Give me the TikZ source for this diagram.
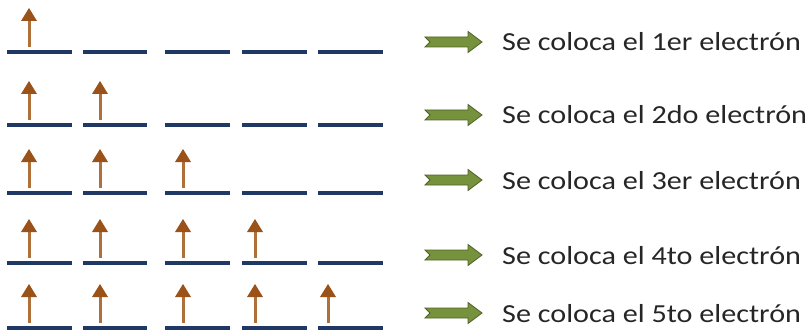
\documentclass[tikz,border=0pt]{standalone}
\usepackage{fontspec}
\setmainfont{Carlito}
\definecolor{levelblue}{HTML}{1F3864}
\definecolor{spinbrown}{HTML}{9A5219}
\definecolor{shaftbrown}{HTML}{B0703A}
\definecolor{pointgreen}{HTML}{76923C}
\definecolor{pointedge}{HTML}{4F6228}
\begin{document}
\begin{tikzpicture}[x=1pt,y=-1pt,
  level/.style={levelblue, line width=3.2pt},
  shaft/.style={shaftbrown, line width=3pt},
  spinhead/.style={fill=spinbrown, draw=none},
  pointer/.style={fill=pointgreen, draw=pointedge, line width=0.8pt, line join=miter},
  caption/.style={anchor=base west, font=\fontsize{26}{30}\selectfont, text=black!85,
    inner sep=0pt, xscale=1.16}]
\useasboundingbox (0,0) rectangle (808,334);
% each row: level height, pointer height, ordinal
\foreach \r/\ly/\gy/\ord in {1/52/42/1er,2/125/115/2do,3/193/180/3er,4/263/255/4to,5/328/313/5to} {
  % five degenerate orbitals
  \foreach \a/\b [count=\k] in {7/72,83/147,165/230,242/307,318/383}
    \draw[level] (\a,\ly) -- (\b,\ly);
  % spin-up electrons, one more per row
  \foreach \xs [count=\k] in {29,100,183,255,328} {
    \ifnum\k>\r\else
      \draw[shaft] (\xs,\ly-5) -- (\xs,\ly-32);
      \fill[spinhead] (\xs-8,\ly-31) -- (\xs,\ly-44) -- (\xs+8,\ly-31) -- cycle;
    \fi
  }
  % notched block arrow
  \begin{scope}[shift={(0,\gy)}]
    \draw[pointer] (425,-5) -- (468,-5) -- (468,-10.5) -- (482,0) -- (468,10.5)
      -- (468,5) -- (425,5) -- (430,0) -- cycle;
  \end{scope}
  \node[caption] (t\r) at (502,\gy+9) {Se coloca el \ord{} electrón};
}
\end{tikzpicture}
\end{document}
